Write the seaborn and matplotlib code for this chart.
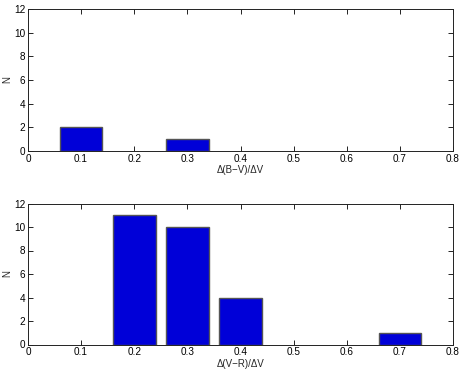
import matplotlib
matplotlib.use("Agg")
import matplotlib.pyplot as plt
import seaborn as sns
import pandas as pd

# Data
bv_centers = [0.1, 0.3]
bv_counts = [2, 1]
vr_centers = [0.2, 0.3, 0.4, 0.7]
vr_counts = [11, 10, 4, 1]
xticks = [0, 0.1, 0.2, 0.3, 0.4, 0.5, 0.6, 0.7, 0.8]
yticks = [0, 2, 4, 6, 8, 10, 12]
xlabels = ["\u0394(B\u2212V)/\u0394V", "\u0394(V\u2212R)/\u0394V"]

sns.set_style("white")
plt.rcParams['font.family'] = ['Liberation Sans', 'DejaVu Sans']

fig = plt.figure(figsize=(4.63, 3.71), dpi=100)
ax1 = fig.add_axes([28/463, 1-151/371, 425/463, 142/371])
ax2 = fig.add_axes([28/463, 1-344.5/371, 425/463, 141/371])

bar_color = "#0000D8"
edge = "#555555"

for ax, centers, counts, w, lab in [
    (ax1, bv_centers, bv_counts, 0.4, xlabels[0]),
    (ax2, vr_centers, vr_counts, 0.8, xlabels[1]),
]:
    df = pd.DataFrame({"x": centers, "n": counts})
    sns.barplot(data=df, x="x", y="n", native_scale=True, width=w,
                color=bar_color, edgecolor=edge, linewidth=1.0,
                saturation=1, errorbar=None, ax=ax)
    ax.set_xlim(0, 0.8)
    ax.set_ylim(0, 12)
    ax.set_xticks(xticks)
    ax.set_xticklabels([f"{t:g}" for t in xticks])
    ax.set_yticks(yticks)
    ax.set_xlabel(lab, fontsize=7, labelpad=1)
    ax.set_ylabel("N", fontsize=7, labelpad=1.5)
    ax.tick_params(direction="in", length=3.5, width=0.6, labelsize=7.2,
                   top=True, right=True, bottom=True, left=True, pad=2,
                   colors="black")
    for s in ax.spines.values():
        s.set_linewidth(0.7)
        s.set_color("#222222")
        s.set_visible(True)

fig.savefig("out.png", dpi=100)
